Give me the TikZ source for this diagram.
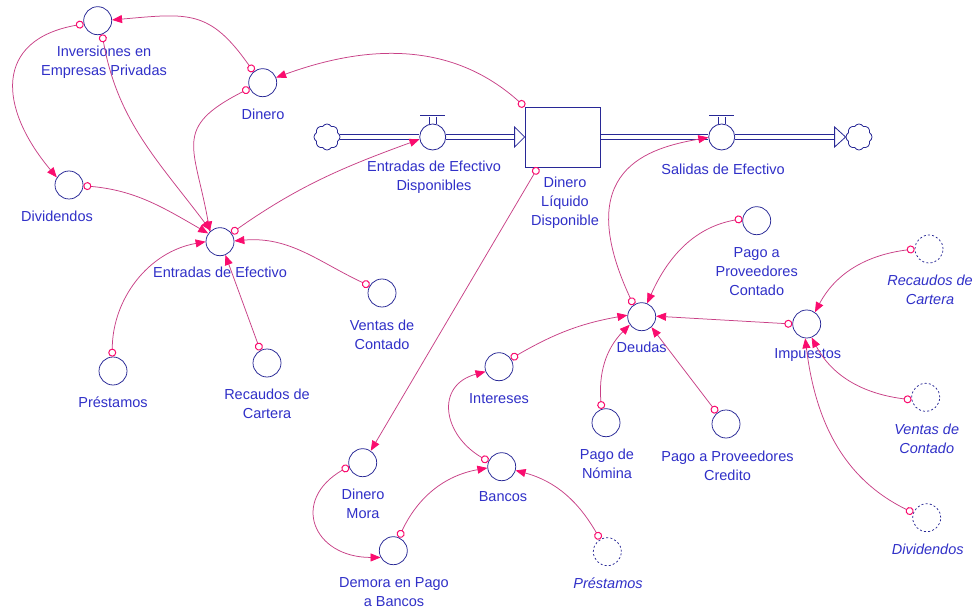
\documentclass[tikz,border=0pt]{standalone}
\usepackage{fontspec}
\setmainfont{Liberation Sans}
\usetikzlibrary{arrows.meta,shapes.symbols}
\definecolor{vblue}{RGB}{40,40,150}
\definecolor{tblue}{RGB}{48,48,200}
\definecolor{lpink}{RGB}{200,64,134}
\definecolor{apink}{RGB}{250,12,110}
\begin{document}
\begin{tikzpicture}[x=1pt,y=1pt,
  aux/.style={circle, draw=vblue, line width=0.75pt, minimum size=28pt, inner sep=0pt, fill=white},
  shadowvar/.style={aux, dash pattern=on 2pt off 2.2pt},
  lbl/.style={text=tblue, font=\fontsize{14.5}{19}\selectfont, align=center, inner sep=0pt},
  slbl/.style={lbl, font=\fontsize{14.5}{19}\selectfont\itshape},
  link/.style={draw=lpink, line width=0.75pt,
    arrows={Circle[open,length=8pt,width=8pt,color=apink,line width=1pt]-Triangle[length=10pt,width=8pt,color=apink]}},
  pipeline/.style={draw=vblue, line width=0.8pt},
  valvec/.style={circle, draw=vblue, line width=0.8pt, fill=white, minimum size=26pt, inner sep=0pt},
  stockbox/.style={draw=vblue, line width=0.8pt, fill=white, minimum width=75pt, minimum height=60pt, inner sep=0pt},
  cloudsym/.style={cloud, draw=vblue, line width=0.8pt, cloud puffs=8, cloud puff arc=120, aspect=1,
    minimum width=26pt, minimum height=26pt, inner sep=0pt, fill=white},
  headtri/.style={draw=vblue, line width=0.8pt, fill=white}
]
\fill[white] (0,0) rectangle (976,-609);
\useasboundingbox (0,0) rectangle (976,-609);

% auxiliary variables
\node[aux] (inv) at (97.7,-20.7) {};
\node[aux] (din) at (262.7,-82.7) {};
\node[aux] (divi) at (69,-185) {};
\node[aux] (entr) at (220,-241.7) {};
\node[aux] (prest) at (113,-371) {};
\node[aux] (rec) at (267,-363) {};
\node[aux] (vent) at (382,-293) {};
\node[aux] (ppc) at (756.7,-220.7) {};
\node[aux] (deu) at (641.7,-316.7) {};
\node[aux] (imp) at (806.7,-324) {};
\node[shadowvar] (rec2) at (929,-249) {};
\node[shadowvar] (vent2) at (925.7,-397.3) {};
\node[shadowvar] (divi2) at (926.7,-517.7) {};
\node[aux] (nom) at (606,-422.7) {};
\node[aux] (ppcr) at (726,-424) {};
\node[aux] (inte) at (499,-366.7) {};
\node[aux] (ban) at (501.7,-466.7) {};
\node[aux] (mora) at (362.7,-462.7) {};
\node[aux] (demora) at (393.3,-550.7) {};
\node[shadowvar] (prest2) at (607.3,-551.7) {};

% stock, valves and clouds
\node[cloudsym] (cloudL) at (327,-137) {};
\node[valvec] (valveIn) at (432.7,-137) {};
\node[stockbox] (stock) at (562.5,-137) {};
\node[valvec] (valveOut) at (721.7,-137) {};
\node[cloudsym] (cloudR) at (859,-137) {};

% flow pipes: two parallel lines each
\foreach \s in {2.4,-2.4}{
  \draw[pipeline] ([yshift=\s pt]cloudL.east) -- ([yshift=\s pt]valveIn.west);
  \draw[pipeline] ([yshift=\s pt]valveIn.east) -- ([xshift=-10pt,yshift=\s pt]stock.west);
  \draw[pipeline] ([yshift=\s pt]stock.east) -- ([yshift=\s pt]valveOut.west);
  \draw[pipeline] ([yshift=\s pt]valveOut.east) -- ([xshift=-11pt,yshift=\s pt]cloudR.west);
}
\draw[headtri] ([xshift=-10pt,yshift=10pt]stock.west) -- (stock.west) -- ([xshift=-10pt,yshift=-10pt]stock.west) -- cycle;
\draw[headtri] ([xshift=-11pt,yshift=10pt]cloudR.west) -- (cloudR.west) -- ([xshift=-11pt,yshift=-10pt]cloudR.west) -- cycle;

% valve handles
\foreach \vv in {valveIn,valveOut}{
  \draw[vblue, line width=0.8pt] ([xshift=-3.5pt]\vv.north) -- ++(0,7) ([xshift=3.5pt]\vv.north) -- ++(0,7);
  \draw[vblue, line width=1.8pt] ([shift={(-12.5pt,8pt)}]\vv.north) -- ++(25,0);
}

% labels
\node[lbl] (inv-l) at (104,-62.5) {Inversiones en\\Empresas Privadas};
\node[lbl] (din-l) at (263,-114) {Dinero};
\node[lbl] (divi-l) at (57,-216) {Dividendos};
\node[lbl] (entr-l) at (220,-272) {Entradas de Efectivo};
\node[lbl] (prest-l) at (113,-402) {Préstamos};
\node[lbl] (rec-l) at (267,-404) {Recaudos de\\Cartera};
\node[lbl] (vent-l) at (382,-334.5) {Ventas de\\Contado};
\node[lbl] (valveIn-l) at (434,-177) {Entradas de Efectivo\\Disponibles};
\node[lbl] (stock-l) at (565,-202.5) {Dinero\\Líquido\\Disponible};
\node[lbl] (valveOut-l) at (723,-169) {Salidas de Efectivo};
\node[lbl] (ppc-l) at (756.7,-271.7) {Pago a\\Proveedores\\Contado};
\node[lbl] (deu-l) at (641.7,-347.7) {Deudas};
\node[lbl] (imp-l) at (807.7,-355) {Impuestos};
\node[slbl] (rec2-l) at (930,-290) {Recaudos de\\Cartera};
\node[slbl] (vent2-l) at (926.7,-438.5) {Ventas de\\Contado};
\node[slbl] (divi2-l) at (927.7,-549.3) {Dividendos};
\node[lbl] (nom-l) at (607,-464) {Pago de\\Nómina};
\node[lbl] (ppcr-l) at (727.5,-466) {Pago a Proveedores\\Credito};
\node[lbl] (inte-l) at (499,-398.3) {Intereses};
\node[lbl] (ban-l) at (503,-496.7) {Bancos};
\node[lbl] (mora-l) at (363,-503.4) {Dinero\\Mora};
\node[lbl] (demora-l) at (394,-591.7) {Demora en Pago\\a Bancos};
\node[slbl] (prest2-l) at (608,-583.3) {Préstamos};

% causal links
\draw[link] (stock.north west) to[out=138,in=20] (din.21);
\draw[link] (din.130) to[out=125,in=5,looseness=1.3] (inv.3);
\draw[link] (din.203) to[out=207,in=100,looseness=1.5] (entr.135);
\draw[link] (inv.193) to[out=190,in=130,looseness=1.5] (divi.148);
\draw[link] (inv.-72) to[out=-80,in=127] (entr.130);
\draw[link] (divi.-3) to[out=-5,in=150] (entr.145);
\draw[link] (entr.37) to[out=35,in=200] (valveIn.190);
\draw[link] (prest.93) to[out=90,in=190] (entr.180);
\draw[link] (rec.118) -- (entr.-68);
\draw[link] (vent.150) to[out=155,in=5] (entr.3);
\draw[link] (stock.231) -- (mora.56);
\draw[link] (mora.195) to[out=210,in=180,looseness=1.8] (demora.208);
\draw[link] (demora.67) to[out=65,in=190] (ban.185);
\draw[link] (prest2.120) to[out=120,in=-15] (ban.-15);
\draw[link] (ban.158) to[out=150,in=195,looseness=1.5] (inte.200);
\draw[link] (inte.34) to[out=30,in=190] (deu.174);
\draw[link] (deu.125) .. controls +(115:150) and +(190:60) .. (valveOut.182);
\draw[link] (ppc.172) to[out=190,in=66] (deu.68);
\draw[link] (imp.180) -- (deu.2);
\draw[link] (nom.108) to[out=95,in=225] (deu.214);
\draw[link] (ppcr.129) -- (deu.-47);
\draw[link] (rec2.180) to[out=187,in=62] (imp.55);
\draw[link] (vent2.190) to[out=173,in=-62] (imp.-70);
\draw[link] (divi2.160) to[out=154,in=-83] (imp.-96);
\end{tikzpicture}
\end{document}
